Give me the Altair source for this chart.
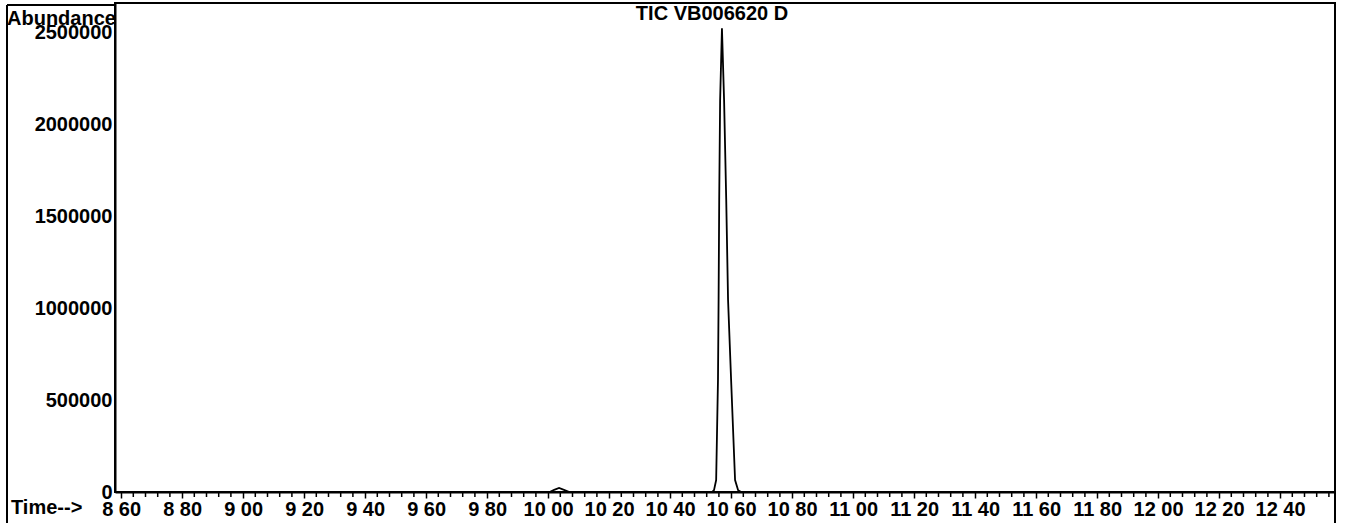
import altair as alt
import pandas as pd

# Chromatogram trace (time in minutes, abundance in counts)
time_min = [8.58, 10.005, 10.020, 10.036, 10.052, 10.070,
            10.538, 10.544, 10.551, 10.557, 10.559, 10.561, 10.564, 10.570,
            10.577, 10.584, 10.590, 10.600, 10.613, 10.623, 10.633, 12.58]
abundance = [0, 0, 12000, 22000, 12000, 0,
             0, 10000, 65000, 610000, 1045000, 1590000, 2130000, 2520000,
             2130000, 1590000, 1045000, 610000, 65000, 10000, 0, 0]

# Axis ticks and labels
major_ticks = [8.60, 8.80, 9.00, 9.20, 9.40, 9.60, 9.80, 10.00, 10.20, 10.40,
               10.60, 10.80, 11.00, 11.20, 11.40, 11.60, 11.80, 12.00, 12.20, 12.40]
major_labels = ["8 60", "8 80", "9 00", "9 20", "9 40", "9 60", "9 80", "10 00",
                "10 20", "10 40", "10 60", "10 80", "11 00", "11 20", "11 40",
                "11 60", "11 80", "12 00", "12 20", "12 40"]
minor_offsets = [0.04, 0.08, 0.12, 0.16]
y_ticks = [0, 500000, 1000000, 1500000, 2000000, 2500000]

title_text = ["TIC  VB006620 D"]
y_title = ["Abundance"]
x_title = ["Time-->"]

x_domain = [8.58, 12.58]
y_domain = [0, 2658000]

FONT = "Liberation Sans"

minor_ticks = [round(m + o, 2) for m in major_ticks + [12.56 - 0.16] for o in minor_offsets]
minor_ticks = sorted(set(v for v in minor_ticks if v < 12.58))

label_expr = " : ".join(
    f"abs(datum.value - {v}) < 0.01 ? '{l}'" for v, l in zip(major_ticks, major_labels)
) + " : ''"

trace = pd.DataFrame({"t": time_min, "a": abundance})

xs = alt.Scale(domain=x_domain, nice=False, zero=False)
ys = alt.Scale(domain=y_domain, nice=False, zero=False)

line = alt.Chart(trace).mark_line(color="black", strokeWidth=1.8, interpolate="linear").encode(
    x=alt.X("t:Q", scale=xs,
            axis=alt.Axis(values=major_ticks, labelExpr=label_expr, title=None,
                          tickSize=6, tickWidth=1.5, tickColor="black",
                          domainColor="black", domainWidth=2,
                          labelFont=FONT, labelFontSize=20, labelFontWeight="bold",
                          labelColor="black", labelPadding=1, labelOverlap=False,
                          labelFlush=False, grid=False)),
    y=alt.Y("a:Q", scale=ys,
            axis=alt.Axis(values=y_ticks, format="d", title=None, tickSize=0,
                          domainColor="black", domainWidth=2,
                          labelFont=FONT, labelFontSize=20, labelFontWeight="bold",
                          labelColor="black", labelPadding=3, labelOverlap=False,
                          labelFlush=False, grid=False)),
)

minor = alt.Chart(pd.DataFrame({"t": minor_ticks})).mark_rule(color="black", strokeWidth=1.5).encode(
    x=alt.X("t:Q", scale=xs),
    y=alt.value(489),
    y2=alt.value(494),
)

# Outer frame pieces of the scanned printout
frame_left = alt.Chart(pd.DataFrame({"k": [0]})).mark_rule(color="black", strokeWidth=2).encode(
    x=alt.value(-108), y=alt.value(2), y2=alt.value(525))
frame_top = alt.Chart(pd.DataFrame({"k": [0]})).mark_rule(color="black", strokeWidth=2).encode(
    x=alt.value(-108), x2=alt.value(0), y=alt.value(2))
frame_right = alt.Chart(pd.DataFrame({"k": [0]})).mark_rule(color="black", strokeWidth=2).encode(
    x=alt.value(1220), y=alt.value(489), y2=alt.value(525))

title = alt.Chart(pd.DataFrame({"s": title_text})).mark_text(
    font=FONT, fontSize=20, fontWeight="bold", color="black", align="center", baseline="top"
).encode(text="s:N", x=alt.value(597), y=alt.value(1))

ytitle = alt.Chart(pd.DataFrame({"s": y_title})).mark_text(
    font=FONT, fontSize=20, fontWeight="bold", color="black", align="left", baseline="alphabetic"
).encode(text="s:N", x=alt.value(-108), y=alt.value(22))

xtitle = alt.Chart(pd.DataFrame({"s": x_title})).mark_text(
    font=FONT, fontSize=20, fontWeight="bold", color="black", align="left", baseline="alphabetic"
).encode(text="s:N", x=alt.value(-104), y=alt.value(511))

chart = alt.layer(line, minor, frame_left, frame_top, frame_right, title, ytitle, xtitle).properties(
    width=1220, height=489,
    padding={"left": 115, "top": 3, "right": 10, "bottom": 31},
    autosize=alt.AutoSizeParams(type="none"),
    background="white",
).configure_view(stroke="black", strokeWidth=2)

chart.save("out.html", embed_options={"renderer": "svg", "actions": False})
